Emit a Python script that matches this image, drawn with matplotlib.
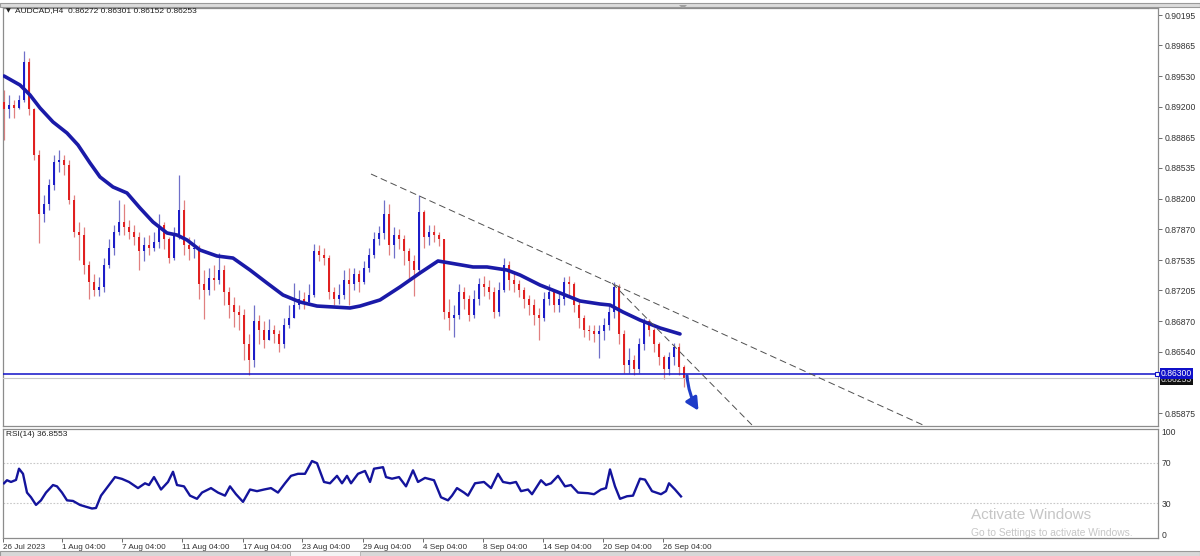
import numpy as np
import matplotlib
matplotlib.use("Agg")
import matplotlib.pyplot as plt
from matplotlib.patches import Rectangle, Polygon

plt.rcParams['font.family'] = ['Liberation Sans', 'DejaVu Sans']

# ---------------- data ----------------
symbol_title = "AUDCAD,H4  0.86272 0.86301 0.86152 0.86253"
rsi_title = "RSI(14) 36.8553"

open0 = 0.8925
closes = [
    0.8917, 0.8922, 0.8919, 0.8927, 0.8969, 0.8917, 0.8868, 0.8803, 0.8814, 0.8835,
    0.8860, 0.8862, 0.8857, 0.8819, 0.8784, 0.8781, 0.8748, 0.8730, 0.8721, 0.8724,
    0.8748, 0.8767, 0.8784, 0.8795, 0.8789, 0.8784, 0.8778, 0.8763, 0.8770, 0.8767,
    0.8773, 0.8792, 0.8776, 0.8756, 0.8781, 0.8808, 0.8770, 0.8765, 0.8767, 0.8727,
    0.8721, 0.8734, 0.8732, 0.8743, 0.8719, 0.8705, 0.8697, 0.8694, 0.8662, 0.8645,
    0.8687, 0.8678, 0.8667, 0.8678, 0.8673, 0.8662, 0.8683, 0.8691, 0.8705, 0.8711,
    0.8708, 0.8716, 0.8763, 0.8759, 0.8756, 0.8719, 0.8711, 0.8716, 0.8732, 0.8727,
    0.8738, 0.8730, 0.8745, 0.8759, 0.8776, 0.8783, 0.8803, 0.8770, 0.8781, 0.8776,
    0.8763, 0.8752, 0.8743, 0.8806, 0.8778, 0.8784, 0.8781, 0.8776, 0.8697, 0.8691,
    0.8694, 0.8719, 0.8711, 0.8694, 0.8711, 0.8727, 0.8724, 0.8719, 0.8697, 0.8721,
    0.8748, 0.8732, 0.8727, 0.8721, 0.8711, 0.8705, 0.8694, 0.8691, 0.8711, 0.8719,
    0.8705, 0.8711, 0.8730, 0.8727, 0.8705, 0.8691, 0.8678, 0.8676, 0.8673, 0.8676,
    0.8683, 0.8697, 0.8724, 0.8673, 0.8640, 0.8645, 0.8635, 0.8662, 0.8687, 0.8678,
    0.8662, 0.8648, 0.8635, 0.8648, 0.8659, 0.8637, 0.86253]
highs = [
    0.8938, 0.8933, 0.8927, 0.8933, 0.8980, 0.8973, 0.8919, 0.8873, 0.8824, 0.8841,
    0.8868, 0.8873, 0.8868, 0.8862, 0.8824, 0.8795, 0.8789, 0.8752, 0.8738, 0.8735,
    0.8756, 0.8776, 0.8792, 0.8819, 0.8814, 0.8797, 0.8792, 0.8784, 0.8778, 0.8781,
    0.8784, 0.8803, 0.8795, 0.8778, 0.8789, 0.8846, 0.8819, 0.8778, 0.8776, 0.8770,
    0.8743, 0.8745, 0.8748, 0.8761, 0.8748, 0.8724, 0.8713, 0.8705, 0.8700, 0.8673,
    0.8705, 0.8694, 0.8687, 0.8689, 0.8683, 0.8678, 0.8691, 0.8705, 0.8729, 0.8721,
    0.8719, 0.8727, 0.8771, 0.8770, 0.8767, 0.8759, 0.8724, 0.8727, 0.8743, 0.8745,
    0.8745, 0.8743, 0.8752, 0.8767, 0.8784, 0.8791, 0.8819, 0.8814, 0.8789, 0.8787,
    0.8781, 0.8767, 0.8759, 0.8824, 0.8808, 0.8792, 0.8792, 0.8784, 0.8776, 0.8711,
    0.8705, 0.8727, 0.8724, 0.8716, 0.8721, 0.8734, 0.8736, 0.8732, 0.8724, 0.8730,
    0.8756, 0.8752, 0.8741, 0.8732, 0.8724, 0.8716, 0.8711, 0.8702, 0.8719, 0.8727,
    0.8721, 0.8719, 0.8735, 0.8736, 0.8730, 0.8711, 0.8694, 0.8683, 0.8683, 0.8683,
    0.8691, 0.8705, 0.8730, 0.8727, 0.8678, 0.8658, 0.8651, 0.8669, 0.8691, 0.8689,
    0.8680, 0.8665, 0.8651, 0.8654, 0.8663, 0.8663, 0.8640]
lows = [
    0.8884, 0.8908, 0.8908, 0.8917, 0.8925, 0.8911, 0.8862, 0.8772, 0.8795, 0.8808,
    0.8830, 0.8849, 0.8846, 0.8814, 0.8778, 0.8754, 0.8738, 0.8711, 0.8714, 0.8715,
    0.8719, 0.8745, 0.8759, 0.8781, 0.8781, 0.8776, 0.8770, 0.8743, 0.8752, 0.8759,
    0.8763, 0.8767, 0.8765, 0.8750, 0.8754, 0.8776, 0.8759, 0.8754, 0.8756, 0.8711,
    0.8689, 0.8716, 0.8721, 0.8727, 0.8705, 0.8691, 0.8681, 0.8678, 0.8645, 0.8629,
    0.8637, 0.8662, 0.8658, 0.8669, 0.8664, 0.8654, 0.8658, 0.8680, 0.8691, 0.8700,
    0.8700, 0.8705, 0.8713, 0.8752, 0.8748, 0.8711, 0.8705, 0.8706, 0.8711, 0.8705,
    0.8721, 0.8719, 0.8727, 0.8741, 0.8756, 0.8770, 0.8776, 0.8759, 0.8756, 0.8765,
    0.8748, 0.8732, 0.8714, 0.8738, 0.8767, 0.8770, 0.8773, 0.8769, 0.8689, 0.8678,
    0.8670, 0.8689, 0.8700, 0.8687, 0.8691, 0.8705, 0.8715, 0.8711, 0.8691, 0.8693,
    0.8719, 0.8721, 0.8719, 0.8713, 0.8702, 0.8694, 0.8683, 0.8667, 0.8687, 0.8705,
    0.8697, 0.8697, 0.8705, 0.8716, 0.8697, 0.8680, 0.8670, 0.8667, 0.8665, 0.8647,
    0.8667, 0.8678, 0.8691, 0.8662, 0.8631, 0.8631, 0.8629, 0.8631, 0.8656, 0.8671,
    0.8654, 0.8640, 0.8624, 0.8629, 0.8640, 0.8629, 0.86152]

# moving average (read at intervals, candle-index time)
ma_t = [0, 3.2, 5.2, 7.2, 9.8, 12.6, 14.8, 17.2, 19.2, 21.8, 24.6, 27.2, 29.8, 32.6, 34.6,
        36.6, 39.2, 42.6, 45.8, 49.2, 52.6, 55.8, 59.2, 62.6, 65.8, 69.2, 71.2, 75.2, 79.2,
        83.2, 86.8, 89.2, 93.8, 96.6, 100.6, 103.2, 107.2, 111.2, 115.2, 119.2, 121.2,
        123.8, 127.2, 131.2, 135.2]
ma_vals = [0.89533, 0.89435, 0.89327, 0.89186, 0.89034, 0.88914, 0.88784, 0.88589, 0.88437,
           0.88328, 0.88263, 0.88100, 0.87948, 0.87829, 0.87807, 0.87753, 0.87644, 0.87579,
           0.87557, 0.87427, 0.87286, 0.87156, 0.87080, 0.87036, 0.87026, 0.87015, 0.87036,
           0.87102, 0.87243, 0.87395, 0.87525, 0.87503, 0.87460, 0.87460, 0.87427, 0.87373,
           0.87264, 0.87178, 0.87091, 0.87058, 0.87047, 0.86971, 0.86884, 0.86798, 0.86733]

# RSI(14)
rsi_t = [0, 0.6, 1.4, 2.4, 3.0, 3.8, 4.6, 5.4, 6.4, 7.4, 8.4, 9.8, 10.6, 11.6, 12.6, 13.8,
         15.2, 16.2, 17.6, 18.4, 19.4, 20.8, 22.2, 23.6, 25.0, 26.8, 28.2, 29.0, 30.0, 31.4,
         32.8, 33.8, 34.6, 36.0, 37.2, 38.6, 39.6, 41.4, 42.8, 44.2, 45.2, 46.4, 47.8, 49.2,
         50.6, 52.0, 53.4, 54.8, 56.2, 57.4, 58.8, 60.2, 61.6, 62.6, 64.0, 65.2, 66.6, 67.6,
         68.6, 69.4, 70.8, 72.2, 73.2, 74.0, 75.0, 75.8, 76.4, 77.6, 79.0, 80.4, 81.8, 82.8,
         84.2, 86.0, 87.4, 88.8, 89.6, 90.6, 92.0, 92.8, 94.2, 96.0, 97.4, 98.8, 99.8, 101.2,
         102.4, 103.4, 104.8, 105.6, 107.4, 108.4, 109.4, 110.8, 112.2, 113.4, 114.8, 116.8,
         118.0, 119.4, 120.4, 121.2, 122.2, 123.2, 124.6, 125.8, 127.2, 128.2, 129.6, 131.4,
         132.4, 133.0, 134.2, 135.4]
rsi_vals = [49.7, 52.7, 51, 53, 64, 59, 40.6, 36, 28.5, 33, 40.6, 48, 46.7, 40.6, 33, 32.4,
            28.5, 27, 25, 25.5, 37.6, 46.7, 55.8, 54, 51, 45, 49.7, 48, 55.8, 43.6, 51, 61,
            48, 46.7, 37.6, 34.5, 40.6, 45, 40.6, 37.6, 46.7, 39, 31.5, 43.6, 42, 43.6, 45,
            40.6, 49.7, 57, 59, 59, 71.5, 69.4, 51, 49.7, 57, 49.7, 57, 49.7, 59, 61.8, 51,
            64, 64.8, 65.5, 55.8, 54.2, 55.8, 46.7, 62.4, 51, 55, 52.7, 36, 33, 37.6, 45,
            40.6, 37.6, 49.7, 51, 45, 59, 51, 49.7, 51, 42, 43.6, 39, 52.7, 48, 49.7, 57,
            46.7, 48, 40.6, 40, 39, 43.6, 45, 63.3, 46.7, 34.5, 37, 37.6, 54.2, 53.3, 42, 39,
            42, 49.7, 43.6, 36.86]

price_ticks = [0.90195, 0.89865, 0.89530, 0.89200, 0.88865, 0.88535, 0.88200, 0.87870,
               0.87535, 0.87205, 0.86870, 0.86540, 0.85875]
rsi_ticks = [0, 30, 70, 100]
date_labels = ["26 Jul 2023", "1 Aug 04:00", "7 Aug 04:00", "11 Aug 04:00", "17 Aug 04:00",
               "23 Aug 04:00", "29 Aug 04:00", "4 Sep 04:00", "8 Sep 04:00", "14 Sep 04:00",
               "20 Sep 04:00", "26 Sep 04:00"]
date_candle = [-0.2, 11.6, 23.6, 35.6, 47.8, 59.6, 71.8, 83.8, 95.8, 107.8, 119.8, 131.8]

level_price = 0.86300
bid_price = 0.86253
trend1 = ([73.4, 183.8], [0.88469, 0.85745])
trend2 = ([121.6, 149.6], [0.87286, 0.85745])
arrow_from = (136.6, 0.8628)
arrow_to = (138.9, 0.8590)

# ---------------- figure ----------------
W, H = 1200, 556
fig = plt.figure(figsize=(12, 5.56), dpi=100)
fig.patch.set_facecolor('white')


def rect(x0, y0, x1, y1):
    return [x0 / W, 1 - y1 / H, (x1 - x0) / W, (y1 - y0) / H]


# window chrome background
bg = fig.add_axes([0, 0, 1, 1], zorder=-10)
bg.set_xlim(0, W)
bg.set_ylim(H, 0)
bg.axis('off')
bg.add_patch(Rectangle((0, 2.5), W, 4, fc='#dcdcdc', ec='#9a9a9a', lw=0.8))
bg.add_patch(Polygon([[679, 5], [687, 5], [683, 9]], closed=True, fc='#a0a0a0', ec='none'))
bg.add_patch(Rectangle((0, 550.5), W, 6, fc='#d8d8d8', ec='#9a9a9a', lw=0.8))
bg.add_patch(Rectangle((290, 550.5), 70, 6, fc='#f4f4f4', ec='#b0b0b0', lw=0.6))

ax = fig.add_axes(rect(3, 8, 1158, 426))
axr = fig.add_axes(rect(3, 429, 1158, 538), sharex=ax)

xmin, xmax = -0.2, 230.8
ax.set_xlim(xmin, xmax)
ax.set_ylim(0.85734, 0.90271)
axr.set_ylim(-3.9, 102.9)

closes = np.array(closes)
opens = np.concatenate([[open0], closes[:-1]])
highs = np.maximum(np.array(highs), np.maximum(opens, closes))
lows = np.minimum(np.array(lows), np.minimum(opens, closes))
idx = np.arange(len(closes))
up = closes >= opens

bull_c, bear_c = '#1c1cc8', '#e02020'
ax.vlines(idx[up], lows[up], highs[up], color='#7070c8', lw=0.9, zorder=2)
ax.vlines(idx[~up], lows[~up], highs[~up], color='#e08080', lw=0.9, zorder=2)
body = np.maximum(np.abs(closes - opens), 0.00004)
ax.bar(idx[up], body[up], bottom=np.minimum(opens, closes)[up], width=0.58,
       color=bull_c, lw=0, zorder=3)
ax.bar(idx[~up], body[~up], bottom=np.minimum(opens, closes)[~up], width=0.58,
       color=bear_c, lw=0, zorder=3)

ax.plot(ma_t, ma_vals, color='#1a1aa8', lw=2.6, solid_capstyle='round',
        solid_joinstyle='round', zorder=5)

# levels / drawings
ax.axhline(bid_price, color='#c8c8c8', lw=0.8, zorder=4)
ax.axhline(level_price, color='#1010c8', lw=1.1, zorder=6)
ax.plot([xmax - 0.3], [level_price], marker='s', ms=3, mfc='white', mec='#1010c8',
        mew=0.8, zorder=7, clip_on=False)
ax.plot(*trend1, color='#505050', lw=0.7, ls=(0, (7, 4)), zorder=6)
ax.plot(*trend2, color='#505050', lw=0.7, ls=(0, (7, 4)), zorder=6)
ax.annotate('', xy=arrow_to, xytext=arrow_from,
            arrowprops=dict(arrowstyle='-|>,head_length=0.75,head_width=0.38',
                            color='#1e3cc8', lw=2.2, shrinkA=0, shrinkB=0,
                            connectionstyle='arc3,rad=0.12'), zorder=8)

# price axis
for a in (ax, axr):
    for s in a.spines.values():
        s.set_color('#8c8c8c')
        s.set_linewidth(0.9)
ax.yaxis.tick_right()
ax.set_yticks(price_ticks)
ax.set_yticklabels([f"{v:.5f}" for v in price_ticks])
ax.tick_params(axis='y', length=3, width=0.6, color='#555555', pad=1.5,
               labelsize=6.2, labelcolor='#333333')
ax.tick_params(axis='x', bottom=False, labelbottom=False)

tr = ax.get_yaxis_transform()
ax.text(1.0025, bid_price - 0.00019, f"{bid_price:.5f}", transform=tr, fontsize=6.2,
        color='#dddddd', va='center', ha='left',
        bbox=dict(boxstyle='square,pad=0.12', fc='#101010', ec='none'), zorder=9,
        clip_on=False)
ax.text(1.0025, level_price + 0.00002, f"{level_price:.5f}", transform=tr, fontsize=6.2,
        color='white', va='center', ha='left',
        bbox=dict(boxstyle='square,pad=0.12', fc='#1010c8', ec='none'), zorder=10,
        clip_on=False)

# RSI
axr.plot(rsi_t, rsi_vals, color='#14149c', lw=1.7, zorder=3)
for lv in (30, 70):
    axr.axhline(lv, color='#c8c8c8', lw=0.8, ls=(0, (1.5, 1.5)), zorder=1)
axr.yaxis.tick_right()
axr.set_yticks(rsi_ticks)
axr.set_yticklabels([str(v) for v in rsi_ticks])
axr.tick_params(axis='y', length=0, pad=2.5, labelsize=6.2, labelcolor='#333333')
axr.set_xticks(date_candle)
axr.set_xticklabels(date_labels)
axr.tick_params(axis='x', length=3, width=0.6, color='#555555', pad=1,
                labelsize=5.9, labelcolor='#333333')
for lbl in axr.get_xticklabels():
    lbl.set_horizontalalignment('left')

# texts
fig.text(6 / W, 1 - 11 / H, "\u25bc", fontsize=4.5, color='#202020', va='center',
         family='DejaVu Sans')
fig.text(15 / W, 1 - 11 / H, symbol_title, fontsize=6, color='#202020', va='center')
fig.text(6 / W, 1 - 435 / H, rsi_title, fontsize=6, color='#202020', va='center')

fig.text(971 / W, 1 - 515 / H, "Activate Windows", fontsize=11, color='#c6c6c6',
         va='center', ha='left')
fig.text(971 / W, 1 - 533 / H, "Go to Settings to activate Windows.", fontsize=7.4,
         color='#c6c6c6', va='center', ha='left')

fig.savefig('out.png', dpi=100, facecolor='white')
